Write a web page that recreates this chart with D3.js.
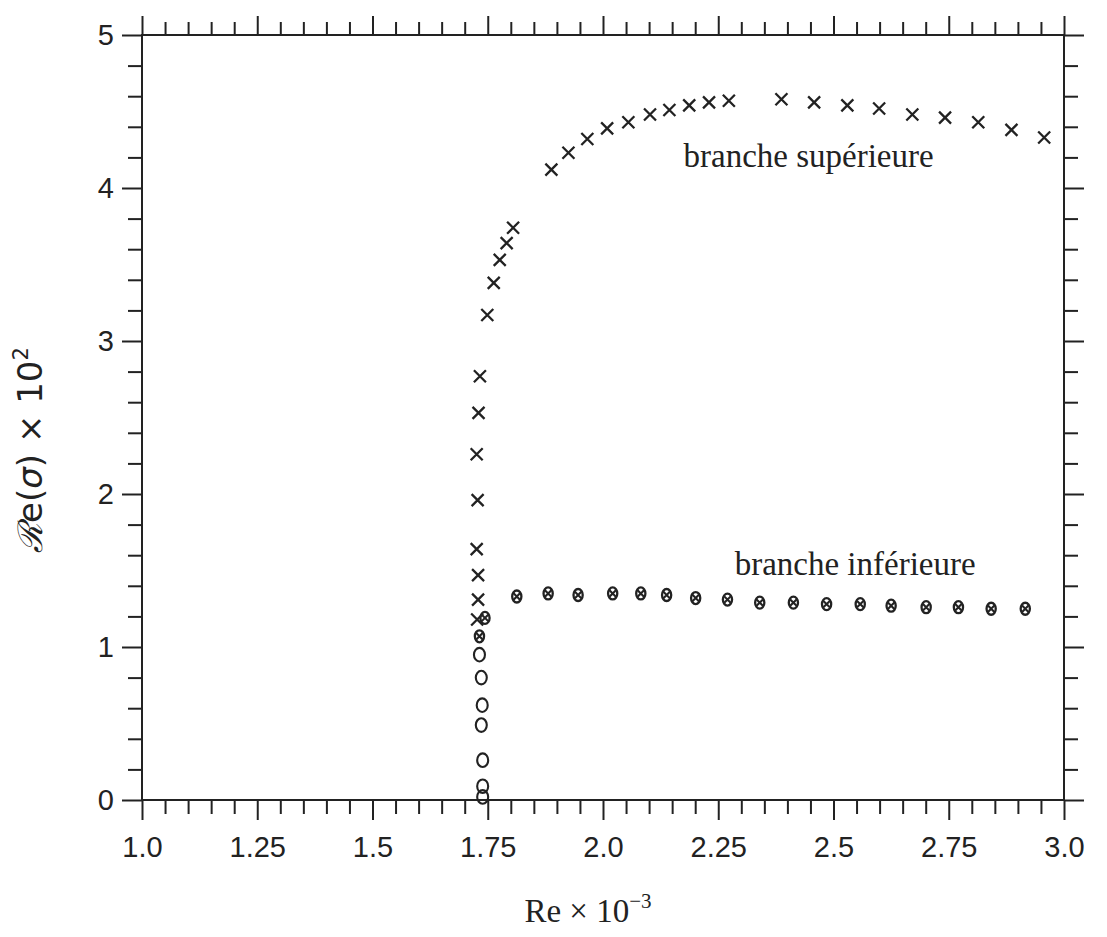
<!DOCTYPE html>
<html>
<head>
<meta charset="utf-8">
<script src="https://cdn.jsdelivr.net/npm/d3@7"></script>
<style>
  body { margin: 0; background: #ffffff; }
  svg { display: block; }
</style>
</head>
<body>
<svg id="chart" width="1107" height="937"></svg>
<script>
// ---------------- data ----------------
// "×" markers : near-vertical column + upper branch (branche supérieure)
const crossRe = [1.727, 1.729, 1.729, 1.726, 1.728, 1.726, 1.730, 1.733, 1.749, 1.763, 1.776, 1.791, 1.805,
                 1.888, 1.925, 1.966, 2.009, 2.055, 2.102, 2.144, 2.187, 2.230, 2.273,
                 2.387, 2.458, 2.530, 2.599, 2.671, 2.742, 2.814, 2.886, 2.957];
const crossSigma = [1.18, 1.31, 1.47, 1.64, 1.96, 2.26, 2.53, 2.77, 3.17, 3.38, 3.53, 3.64, 3.74,
                    4.12, 4.23, 4.32, 4.39, 4.43, 4.48, 4.51, 4.54, 4.56, 4.57,
                    4.58, 4.56, 4.54, 4.52, 4.48, 4.46, 4.43, 4.38, 4.33];
// "o" markers : rising column near Re = 1.74e3
const circleRe = [1.739, 1.739, 1.739, 1.736, 1.738, 1.736, 1.732];
const circleSigma = [0.02, 0.09, 0.26, 0.49, 0.62, 0.80, 0.95];
// "o" and "×" coinciding : lower branch (branche inférieure)
const bothRe = [1.732, 1.744, 1.813, 1.881, 1.946, 2.021, 2.082, 2.138, 2.201, 2.270,
                2.340, 2.413, 2.485, 2.558, 2.625, 2.701, 2.771, 2.842, 2.916];
const bothSigma = [1.07, 1.19, 1.33, 1.35, 1.34, 1.35, 1.35, 1.34, 1.32, 1.31,
                   1.29, 1.29, 1.28, 1.28, 1.27, 1.26, 1.26, 1.25, 1.25];

const xTickValues = [1.0, 1.25, 1.5, 1.75, 2.0, 2.25, 2.5, 2.75, 3.0];
const xTickLabels = ["1.0", "1.25", "1.5", "1.75", "2.0", "2.25", "2.5", "2.75", "3.0"];
const yTickValues = [0, 1, 2, 3, 4, 5];
const yTickLabels = ["0", "1", "2", "3", "4", "5"];

const annotations = [
  { text: "branche supérieure", re: 2.446, sigma: 4.137 },
  { text: "branche inférieure", re: 2.547, sigma: 1.47 }
];

// ---------------- layout ----------------
const ink = "#222";
const margin = { left: 142, right: 1064, top: 35, bottom: 800 };
const svg = d3.select("#chart");

const x = d3.scaleLinear().domain([1, 3]).range([margin.left, margin.right]);
const y = d3.scaleLinear().domain([0, 5]).range([margin.bottom, margin.top]);

const xMinor = d3.range(0, 41).map(i => 1 + i * 0.05).filter(v => Math.abs((v - 1) / 0.25 - Math.round((v - 1) / 0.25)) > 1e-6);
const yMinor = d3.range(0, 26).map(i => i * 0.2).filter(v => Math.abs(v - Math.round(v)) > 1e-6);

function styleAxis(g) {
  g.select(".domain").remove();
  g.selectAll("line").attr("stroke", ink).attr("stroke-width", 2);
  g.selectAll("text").attr("fill", ink)
    .style("font-family", "'Liberation Sans', Arial, Helvetica, sans-serif")
    .style("font-size", "29px");
}

const xFmt = (d) => xTickLabels[xTickValues.indexOf(d)];
const yFmt = (d) => yTickLabels[yTickValues.indexOf(d)];

// bottom
svg.append("g").attr("transform", `translate(0,${margin.bottom})`)
  .call(d3.axisBottom(x).tickValues(xTickValues).tickFormat(xFmt).tickSize(20).tickPadding(16)).call(styleAxis);
svg.append("g").attr("transform", `translate(0,${margin.bottom})`)
  .call(d3.axisBottom(x).tickValues(xMinor).tickFormat("").tickSize(14)).call(styleAxis);
// top
svg.append("g").attr("transform", `translate(0,${margin.top})`)
  .call(d3.axisTop(x).tickValues(xTickValues).tickFormat("").tickSize(19)).call(styleAxis);
svg.append("g").attr("transform", `translate(0,${margin.top})`)
  .call(d3.axisTop(x).tickValues(xMinor).tickFormat("").tickSize(13)).call(styleAxis);
// left
svg.append("g").attr("transform", `translate(${margin.left},0)`)
  .call(d3.axisLeft(y).tickValues(yTickValues).tickFormat(yFmt).tickSize(20).tickPadding(8)).call(styleAxis);
svg.append("g").attr("transform", `translate(${margin.left},0)`)
  .call(d3.axisLeft(y).tickValues(yMinor).tickFormat("").tickSize(14)).call(styleAxis);
// right
svg.append("g").attr("transform", `translate(${margin.right},0)`)
  .call(d3.axisRight(y).tickValues(yTickValues).tickFormat("").tickSize(20)).call(styleAxis);
svg.append("g").attr("transform", `translate(${margin.right},0)`)
  .call(d3.axisRight(y).tickValues(yMinor).tickFormat("").tickSize(14)).call(styleAxis);

// frame
svg.append("rect")
  .attr("x", x(1)).attr("y", y(5))
  .attr("width", x(3) - x(1)).attr("height", y(0) - y(5))
  .attr("fill", "none").attr("stroke", ink).attr("stroke-width", 2);

// ---------------- markers ----------------
const crossPath = (s) => `M${-s},${-s}L${s},${s}M${-s},${s}L${s},${-s}`;

svg.append("g").selectAll("path")
  .data(d3.zip(crossRe, crossSigma)).join("path")
  .attr("transform", d => `translate(${x(d[0])},${y(d[1])})`)
  .attr("d", crossPath(6))
  .attr("stroke", ink).attr("stroke-width", 2.3).attr("fill", "none");

svg.append("g").selectAll("ellipse")
  .data(d3.zip(circleRe, circleSigma)).join("ellipse")
  .attr("cx", d => x(d[0])).attr("cy", d => y(d[1]))
  .attr("rx", 5.5).attr("ry", 6.8)
  .attr("stroke", ink).attr("stroke-width", 2.1).attr("fill", "none");

const both = svg.append("g").selectAll("g")
  .data(d3.zip(bothRe, bothSigma)).join("g")
  .attr("transform", d => `translate(${x(d[0])},${y(d[1])})`);
both.append("ellipse").attr("rx", 4.6).attr("ry", 6)
  .attr("stroke", ink).attr("stroke-width", 2.3).attr("fill", "none");
both.append("path").attr("d", crossPath(3.2))
  .attr("stroke", ink).attr("stroke-width", 2.1).attr("fill", "none");

// ---------------- text ----------------
svg.append("g").selectAll("text")
  .data(annotations).join("text")
  .attr("x", d => x(d.re)).attr("y", d => y(d.sigma))
  .attr("text-anchor", "middle")
  .attr("fill", ink)
  .style("font-family", "'Liberation Serif', 'Times New Roman', serif")
  .style("font-size", "33px")
  .text(d => d.text);

// x-axis title: Re × 10^-3
const xt = svg.append("text")
  .attr("x", 588).attr("y", 922)
  .attr("text-anchor", "middle")
  .attr("fill", ink)
  .style("font-family", "'Liberation Serif', 'Times New Roman', serif")
  .style("font-size", "33px");
xt.append("tspan").text("Re × 10");
xt.append("tspan").attr("dy", -14).style("font-size", "21px").text("−3");

// y-axis title: ℛe(σ) × 10^2
const yt = svg.append("text")
  .attr("transform", "translate(42,450) rotate(-90)")
  .attr("text-anchor", "middle")
  .attr("fill", ink)
  .style("font-family", "'DejaVu Sans', 'Liberation Sans', sans-serif")
  .style("font-size", "34px");
yt.append("tspan").style("font-family", "'DejaVu Serif', serif").style("font-style", "italic").text("ℛ");
yt.append("tspan").text("e(");
yt.append("tspan").style("font-style", "italic").text("σ");
yt.append("tspan").text(") × 10");
yt.append("tspan").attr("dy", -14).style("font-size", "21px").text("2");
</script>
</body>
</html>
